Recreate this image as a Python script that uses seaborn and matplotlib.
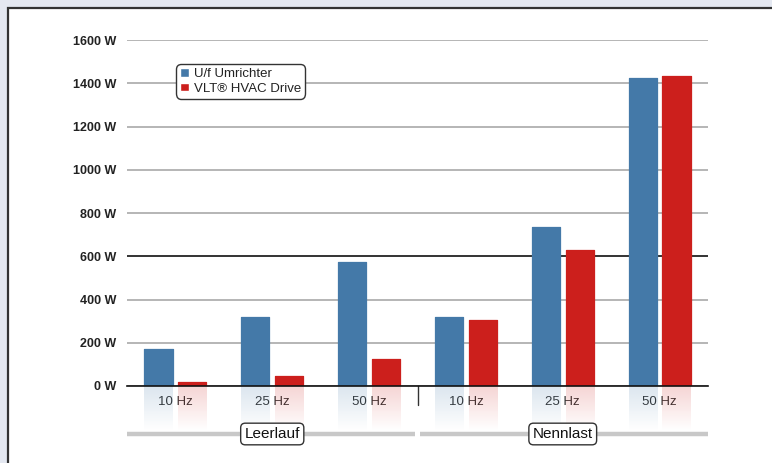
import numpy as np
import pandas as pd
import matplotlib
matplotlib.use("Agg")
import matplotlib.pyplot as plt
import matplotlib.transforms as mtrans
from matplotlib.patches import Rectangle
import seaborn as sns

# ---- data ----
conditions = ["Leerlauf", "Leerlauf", "Leerlauf", "Nennlast", "Nennlast", "Nennlast"]
frequencies = ["10 Hz", "25 Hz", "50 Hz", "10 Hz", "25 Hz", "50 Hz"]
uf_umrichter = [172, 321, 574, 318, 735, 1425]
vlt_hvac = [19, 48, 126, 306, 631, 1432]
series_names = ["U/f Umrichter", "VLT\u00ae HVAC Drive"]
group_names = ["Leerlauf", "Nennlast"]
y_ticks = [0, 200, 400, 600, 800, 1000, 1200, 1400, 1600]

BLUE = "#4479a8"
RED = "#cc1f1c"

cats = [f"{c} {f}" for c, f in zip(conditions, frequencies)]
rows = []
for cat, a, b in zip(cats, uf_umrichter, vlt_hvac):
    rows.append({"cat": cat, "series": series_names[0], "value": a})
    rows.append({"cat": cat, "series": series_names[1], "value": b})
df = pd.DataFrame(rows)

sns.set_style("white")
plt.rcParams["font.family"] = ["Liberation Sans", "DejaVu Sans"]

W, H = 772, 463
fig = plt.figure(figsize=(W / 100, H / 100), dpi=100, facecolor="#e4e8f1")
panel = Rectangle((7.5 / W, -0.1), 1.2, 1.1 - 8.5 / H, transform=fig.transFigure,
                  facecolor="white", edgecolor="#333333", linewidth=1.6, zorder=-10)
fig.patches.append(panel)

x0, x1, ytop, ybot = 127, 708, 40, 386
ax = fig.add_axes([x0 / W, (H - ybot) / H, (x1 - x0) / W, (ybot - ytop) / H])
ax.set_facecolor("none")

sns.barplot(data=df, x="cat", y="value", hue="series", order=cats, hue_order=series_names,
            palette=[BLUE, RED], width=0.7, gap=0.17, saturation=1, errorbar=None,
            ax=ax, zorder=3)
handles, labels = ax.get_legend_handles_labels()
if ax.get_legend() is not None:
    ax.get_legend().remove()

# slightly rounded bar corners + reflections under bars
refl_h = 45 / (ybot - ytop) * 1600
for p in list(ax.patches):
    if p.get_height() <= 0:
        continue
    p.set_edgecolor(p.get_facecolor())
    p.set_linewidth(0.9)
    p.set_joinstyle("round")
    bx = p.get_x()
    bw = p.get_width()
    col = matplotlib.colors.to_rgb(p.get_facecolor())
    n = 60
    img = np.zeros((n, 1, 4))
    img[..., :3] = col
    img[:, 0, 3] = np.linspace(0.19, 0.0, n)
    ax.imshow(img, extent=(bx, bx + bw, -refl_h, 0), aspect="auto", origin="upper",
              clip_on=False, zorder=1, interpolation="bilinear")

ax.set_xlim(-0.5, 5.5)
ax.set_ylim(0, 1600)

# y axis
ax.set_yticks(y_ticks)
ax.set_yticklabels([f"{v} W" for v in y_ticks], fontweight="bold", fontsize=9, color="#222222")
ax.tick_params(axis="y", length=0, pad=8)
ax.yaxis.grid(True, color="#b0b0b0", linewidth=1.3, zorder=0)
ax.set_axisbelow(True)
for v, gl in zip(y_ticks, ax.get_ygridlines()):
    if v == 600:
        gl.set_color("#111111")
        gl.set_linewidth(1.2)

# x axis
ax.set_xticks(range(len(cats)))
ax.set_xticklabels(frequencies, fontsize=9.5, color="#333333")
ax.tick_params(axis="x", which="major", length=0, pad=7)
ax.set_xticks(np.arange(-0.5, len(cats)), minor=True)
ax.tick_params(axis="x", which="minor", length=4.5, width=1, color="#333333")
ax.set_xlabel("")
ax.set_ylabel("")

for s in ["top", "right", "left"]:
    ax.spines[s].set_visible(False)
ax.spines["bottom"].set_color("#111111")
ax.spines["bottom"].set_linewidth(1.2)
ax.spines["bottom"].set_zorder(4)

trans = mtrans.blended_transform_factory(ax.transData, ax.transAxes)
ax.plot([2.5, 2.5], [0, -19 / (ybot - ytop)], transform=trans, color="#333333", lw=1,
        clip_on=False)

# group bands and labels
yb = -(434 - ybot) / (ybot - ytop)
ax.plot([-0.5, 2.474], [yb, yb], transform=trans, color="#c8c8c8", lw=3.2,
        solid_capstyle="butt", clip_on=False)
ax.plot([2.526, 5.5], [yb, yb], transform=trans, color="#c8c8c8", lw=3.2,
        solid_capstyle="butt", clip_on=False)
for i, g in enumerate(group_names):
    ax.text(1 + 3 * i, yb, g, transform=trans, ha="center", va="center", fontsize=11,
            color="#111111",
            bbox=dict(boxstyle="round,pad=0.25,rounding_size=0.3", fc="white", ec="#333333", lw=1))

# legend
leg = ax.legend(handles, labels, loc="upper left",
                bbox_to_anchor=((176 - x0) / (x1 - x0), (ybot - 64) / (ybot - ytop)),
                frameon=True, fancybox=True, edgecolor="#333333", framealpha=1,
                fontsize=9.5, handlelength=0.65, handleheight=0.65, handletextpad=0.4,
                borderpad=0.3, labelspacing=0.2, borderaxespad=0)
leg.get_frame().set_linewidth(1)
leg.get_frame().set_boxstyle("round,pad=0,rounding_size=0.4")
for t in leg.get_texts():
    t.set_color("#222222")

fig.savefig("out.png", dpi=100, facecolor=fig.get_facecolor())
